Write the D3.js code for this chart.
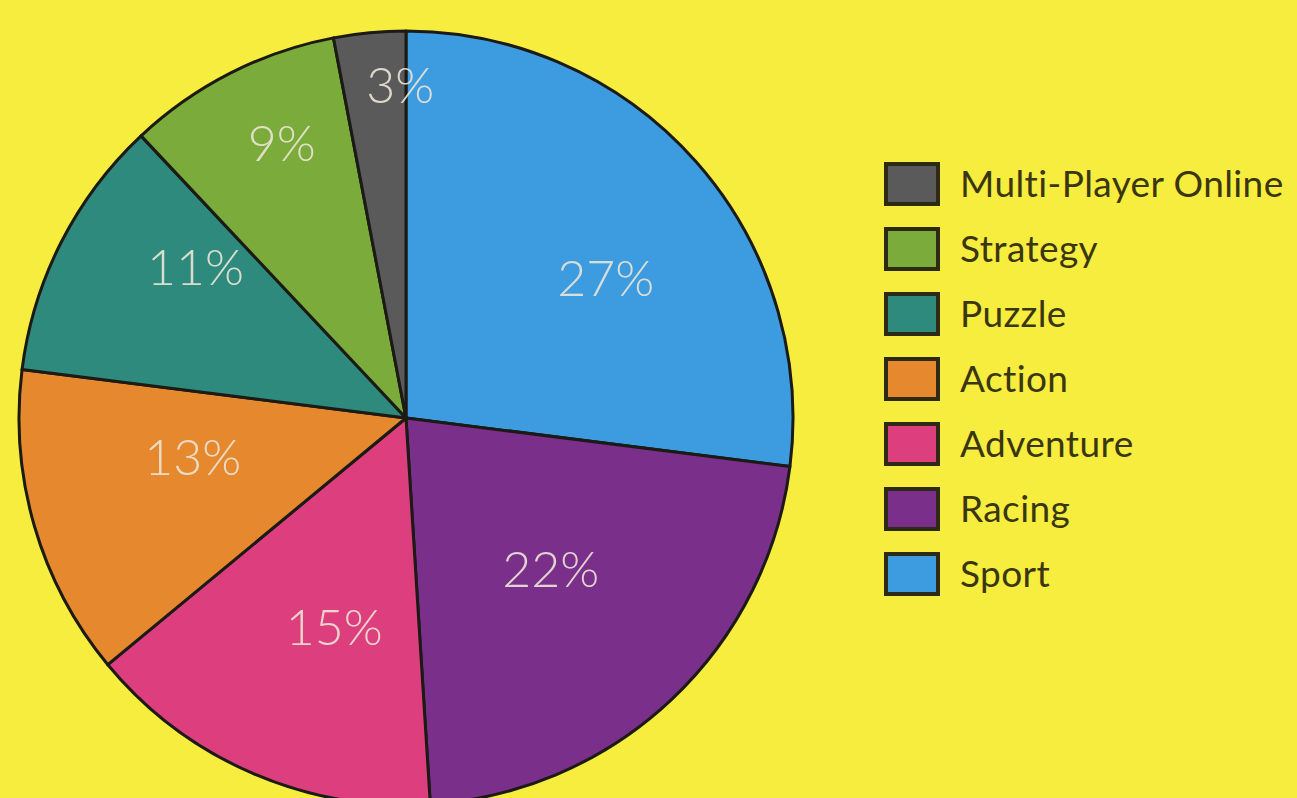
<!DOCTYPE html>
<html><head><meta charset="utf-8">
<script src="https://cdn.jsdelivr.net/npm/d3@7"></script>
<style>html,body{margin:0;padding:0;background:#f6ed3e;overflow:hidden}</style>
</head><body>
<svg id="c" width="1297" height="798"></svg>
<script>
const categories = ["Sport","Racing","Adventure","Action","Puzzle","Strategy","Multi-Player Online"];
const shares = [27,22,15,13,11,9,3];
const colors = ["#3d9be0","#7a2f8a","#dd3f7e","#e5882e","#2d8a7c","#7bab3b","#5b5a5a"];
const legendOrder = ["Multi-Player Online","Strategy","Puzzle","Action","Adventure","Racing","Sport"];
// label placement (layout only): radius fraction and angle offset in degrees
const labelRadiusFrac = [0.63,0.54,0.57,0.56,0.67,0.78,0.86];
const labelAngleOffset = [6.4,-0.6,-4.4,5.8,8.7,2.7,4.4];

const svg = d3.select("#c");
const cx = 406, cy = 418, R = 387;
const g = svg.append("g").attr("transform",`translate(${cx},${cy})`);
const pie = d3.pie().sort(null).value(d=>d.v);
const data = categories.map((c,i)=>({c, v:shares[i], col:colors[i], lr:labelRadiusFrac[i], lo:labelAngleOffset[i]}));
const arcs = pie(data);
const arc = d3.arc().innerRadius(0).outerRadius(R);
g.selectAll("path").data(arcs).join("path")
  .attr("d",arc).attr("fill",d=>d.data.col)
  .attr("stroke","#1c1a14").attr("stroke-width",3).attr("stroke-linejoin","round");
g.selectAll("text").data(arcs).join("text")
  .attr("transform",d=>{
    const a=(d.startAngle+d.endAngle)/2 + d.data.lo*Math.PI/180;
    const r=R*d.data.lr;
    return `translate(${r*Math.sin(a)},${-r*Math.cos(a)})`;})
  .attr("text-anchor","middle").attr("dy","0.36em")
  .attr("font-family","Lato, 'Open Sans', sans-serif").attr("font-weight",300).attr("font-size",50)
  .attr("fill","#ece6d6").attr("fill-opacity",0.9)
  .text(d=>d.data.v+"%");

const colorOf = d3.scaleOrdinal().domain(categories).range(colors);
const ly = d3.scalePoint().domain(legendOrder).range([184,574]);
const lg = svg.append("g");
const rows = lg.selectAll("g").data(legendOrder).join("g").attr("transform",d=>`translate(0,${ly(d)})`);
rows.append("rect").attr("x",886).attr("y",-20).attr("width",52).attr("height",40)
  .attr("fill",d=>colorOf(d)).attr("stroke","#2c2a12").attr("stroke-width",4);
rows.append("text").attr("x",960).attr("dy","0.35em")
  .attr("font-family","Lato, 'Open Sans', sans-serif").attr("font-size",37).attr("letter-spacing",0.4)
  .attr("fill","#3a3612").text(d=>d);
</script>
</body></html>
